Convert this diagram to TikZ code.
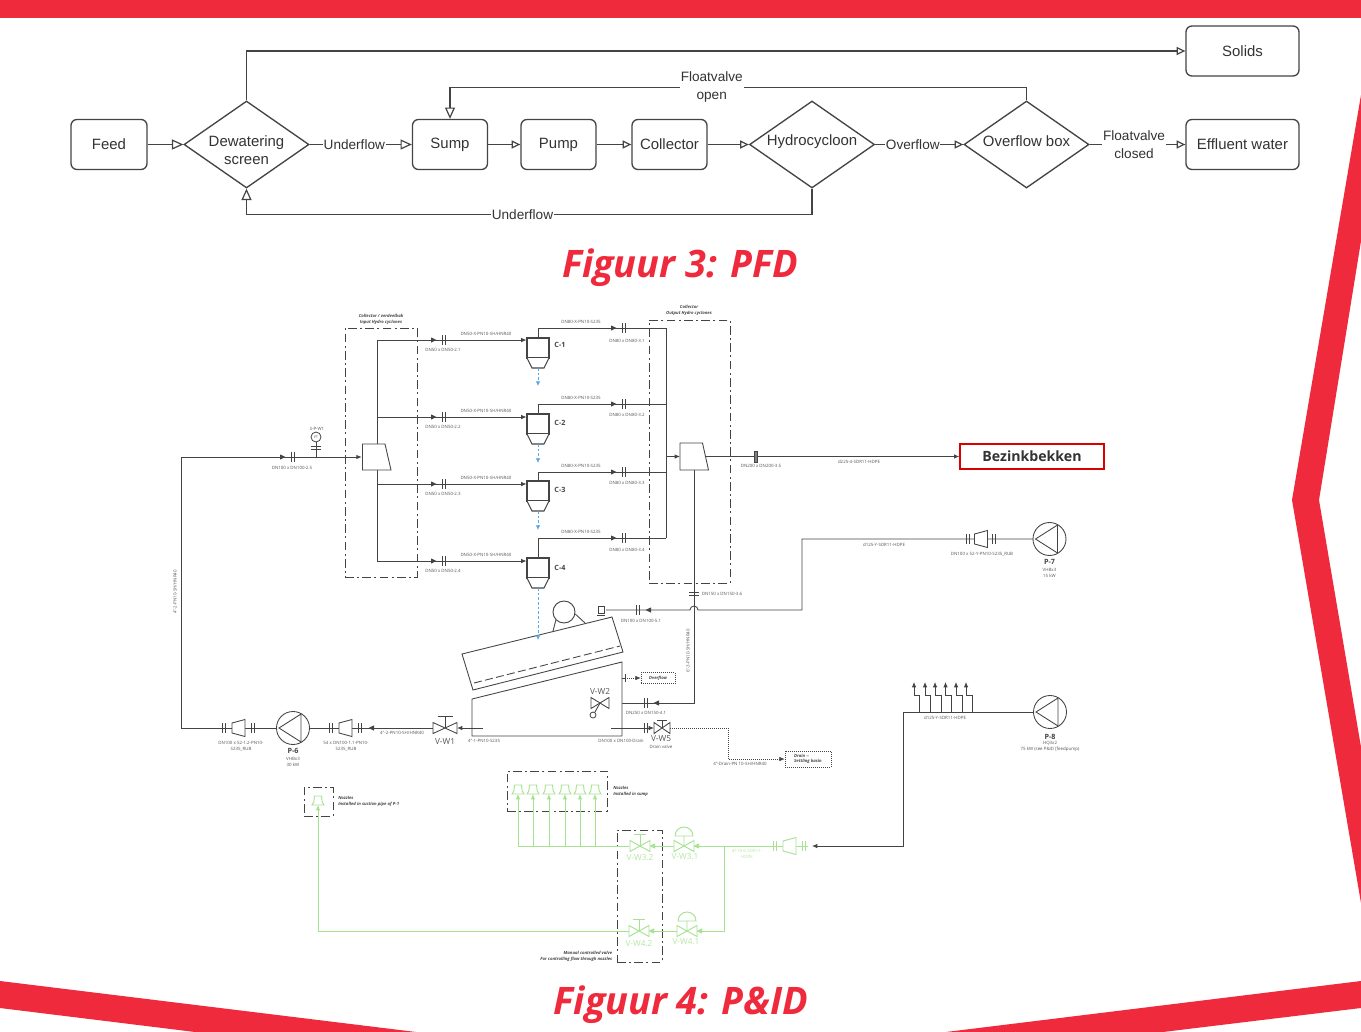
\documentclass[tikz,border=0pt]{standalone}
\usepackage{fontspec}
\setmainfont{Liberation Sans}
\newfontfamily\opensans{Open Sans}
\usetikzlibrary{arrows.meta,shapes.geometric,calc}
\definecolor{brandred}{HTML}{EE2A3C}
\definecolor{pipe}{HTML}{444444}
\definecolor{pfdtext}{HTML}{333333}
\definecolor{pipegreen}{HTML}{A6E291}
\definecolor{lblgreen}{HTML}{B5E6A4}
\definecolor{pipeblue}{HTML}{5BA8E6}
\definecolor{smalltext}{HTML}{555555}
\tikzset{
  pfdbox/.style={draw=pipe,line width=1pt,rounded corners=4.5pt,fill=white,font=\fontsize{11.2}{13}\selectfont,text=pfdtext,align=center,inner sep=0pt,minimum height=37.5pt},
  pfddiamond/.style={draw=pipe,line width=1pt,diamond,aspect=1.44,fill=white,inner sep=0pt,minimum width=93.75pt,minimum height=65.25pt},
  pfdtxt/.style={font=\fontsize{11.2}{13.5}\selectfont,text=pfdtext,align=center,inner sep=0pt},
  pfdflow/.style={draw=pipe,line width=0.9pt,-{Triangle[open,length=8.5pt,width=7.5pt]}},
  pfdflows/.style={draw=pipe,line width=0.9pt,-{Triangle[open,length=6.5pt,width=6pt]}},
  pfdlabel/.style={fill=white,inner sep=0.6pt,font=\fontsize{10.2}{13.5}\selectfont,text=pfdtext,align=center},
  figtitle/.style={font=\opensans\bfseries\itshape\fontsize{28.4}{31}\selectfont,text=brandred},
  tinyt/.style={font=\opensans\fontsize{3.3}{4.4}\selectfont,text=smalltext,align=center,inner sep=0pt},
  tinyg/.style={font=\opensans\fontsize{3.3}{4.4}\selectfont,text=lblgreen,align=center,inner sep=0pt},
  capc/.style={font=\opensans\bfseries\itshape\fontsize{3.2}{4.4}\selectfont,text=pipe,align=center,inner sep=0pt},
  capl/.style={capc,align=left,anchor=west},
  capr/.style={capc,align=right,anchor=east},
  tagbig/.style={font=\opensans\fontsize{6.2}{7}\selectfont,text=smalltext,inner sep=0pt},
  tagg/.style={font=\opensans\fontsize{6.2}{7}\selectfont,text=lblgreen,inner sep=0pt},
  cyclab/.style={font=\opensans\bfseries\fontsize{5.4}{6}\selectfont,text=pipe,inner sep=0pt},
  pline/.style={draw=pipe,line width=0.65pt},
  gline/.style={draw=pipegreen,line width=0.7pt},
  bline/.style={draw=pipeblue,line width=0.6pt,dash pattern=on 2pt off 1.5pt},
  dashdot/.style={draw=pipe,line width=0.6pt,dash pattern=on 6.5pt off 2.5pt on 1.5pt off 2.5pt},
  dotbox/.style={draw=pipe,line width=0.5pt,densely dotted},
  pipetip/.style={-{Latex[length=4pt,width=3.4pt]}},
  gtip/.style={-{Latex[length=4pt,width=3.4pt,color=pipegreen]}},
  pics/flange/.style={code={
    \draw[pic actions] (-1.8,-5)--(-1.8,5) (1.8,-5)--(1.8,5);}},
  pics/tip/.style={code={
    \fill[pic actions,draw=none] (2.5,0)--(-3,-2.6)--(-3,2.6)--cycle;}},
  pics/reducer/.style={code={
    \draw[pic actions,fill=white] (-6.5,-5)--(6.5,-8.5)--(6.5,8.5)--(-6.5,5)--cycle;}},
  pics/valve/.style={code={
    \draw[pic actions,fill=white] (-#1,-5.5)--(#1,5.5)--(#1,-5.5)--(-#1,5.5)--cycle;}},
  pics/stem/.style={code={
    \draw[pic actions] (0,0)--(0,-12) (-#1,-12)--(#1,-12);}},
  pics/shortstem/.style={code={
    \draw[pic actions] (0,0)--(0,-8) (-#1,-8)--(#1,-8);}},
  pics/dome/.style={code={
    \draw[pic actions] (0,0)--(0,-10) (-9,-10) arc[start angle=180,end angle=360,radius=9] --cycle;}},
  pics/pump/.style={code={
    \draw[pic actions,fill=white] (0,0) circle[radius=16.5];
    \draw[pic actions] (-14,0)--(8,-14)--(8,14)--cycle;}},
  pics/nozzle/.style={code={
    \draw[pic actions] (-3.5,-9)--(3.5,-9)--(4.2,-3)--(6,0)--(-6,0)--(-4.2,-3)--cycle;}},
  pics/cyclone/.style={code={
    \draw[pipe,line width=0.8pt,fill=white] (-11,0) rectangle (11,20);
    \draw[pipe,line width=0.8pt,fill=white] (-11,20)--(-6,30)--(6,30)--(11,20);}},
}
\begin{document}
\begin{tikzpicture}[x=0.75pt,y=-0.75pt]
\useasboundingbox (0,0) rectangle (1361,1032);
\fill[white] (0,0) rectangle (1361,1032);
% brand decoration
\fill[brandred] (0,0) rectangle (1361,18);
\fill[brandred] (1361,95)--(1292,500)--(1361,903)--(1361,747)--(1319,500)--(1361,241)--cycle;
\fill[brandred] (0,981)--(416,1032)--(195,1032)--(0,1008)--cycle;
\fill[brandred] (1361,981)--(946,1032)--(1163,1032)--(1361,1008)--cycle;
\node[figtitle] (t3) at (680,268) {Figuur 3: PFD};
\node[figtitle] (t4) at (681,1005) {Figuur 4: P\&ID};

% ---------- PFD ----------
\node[pfdbox,minimum width=57pt] (feed) at (109,144.5) {Feed};
\node[pfddiamond] (dew) at (246.5,144.5) {};
\node[pfdtxt] (dewt) at (246.5,150.5) {Dewatering\\screen};
\node[pfdbox,minimum width=56.25pt] (sump) at (450,144.5) {Sump};
\node[pfdbox,minimum width=56.25pt] (pumpb) at (558.5,144.5) {Pump};
\node[pfdbox,minimum width=56.25pt] (coll) at (669.5,144.5) {Collector};
\node[pfddiamond] (hyd) at (812,144.5) {};
\node[pfdtxt] (hydt) at (812,141.5) {Hydrocycloon};
\node[pfddiamond] (ovb) at (1026.5,144.5) {};
\node[pfdtxt] (ovbt) at (1026.5,141.5) {Overflow box};
\node[pfdbox,minimum width=84.75pt] (sol) at (1242.5,51) {Solids};
\node[pfdbox,minimum width=84.75pt] (eff) at (1242.5,144.5) {Effluent water};
\draw[pfdflow] (feed)--(dew);
\draw[pfdflows] (dew.north)|-(sol.west);
\draw[pfdflow] (dew)--(sump) node[pfdlabel,pos=0.437] (u1) {Underflow};
\draw[pfdflows] (sump)--(pumpb);
\draw[pfdflows] (pumpb)--(coll);
\draw[pfdflows] (coll)--(hyd);
\draw[pfdflows] (hyd)--(ovb) node[pfdlabel,pos=0.427] (o1) {Overflow};
\draw[pfdflows] (ovb)--(eff) node[pfdlabel,pos=0.464] (f1) {Floatvalve\\closed};
\draw[pfdflow] (ovb.north)--++(0,-13)-|(sump.north) node[pfdlabel,pos=0.273] (f2) {Floatvalve\\open};
\draw[pfdflow] (hyd.south)--++(0,26)-|(dew.south) node[pfdlabel,pos=0.256] (u2) {Underflow};

% ---------- P&ID: dashed enclosures ----------
\node[dashdot,minimum width=54pt,minimum height=186.75pt,inner sep=0pt] (encin) at (381,452.5) {};
\node[dashdot,minimum width=60.75pt,minimum height=197.25pt,inner sep=0pt] (encout) at (689.5,451.5) {};
\node[capc] (capin) at (381,319) {Collector / verdeelbak\\Input Hydro cyclones};
\node[capc] (capout) at (689,310.5) {Collector\\Output Hydro cyclones};

% manifolds
\node[inner sep=0pt,minimum width=21pt,minimum height=19.5pt] (mi) at (376,457) {};
\node[inner sep=0pt,minimum width=21pt,minimum height=19.5pt] (mo) at (694,456.5) {};

% cyclone anchors
\coordinate (c1) at (538,338);
\coordinate (c2) at (538,414);
\coordinate (c3) at (538,481);
\coordinate (c4) at (538,558);

% feed line
\coordinate (p6out) at (276.5,728);
\draw[pline,pipetip] (p6out)--(181,728)--(181,457)--(mi.west);
\pic[pline] at (293,457) {flange};
\pic[pipe] at (283,457) {tip};
\node[tinyt] (l1) at (292,468) {DN100 x DN100-2.5};
% pressure transmitter
\node[draw=pipe,line width=0.6pt,circle,minimum size=7.5pt,inner sep=0pt,font=\opensans\fontsize{2.6}{3}\selectfont,text=pipe,fill=white] (pt) at (316,437) {PT};
\draw[pline] (316,457)--(pt.south);
\draw[pline] (311,446)--(321,446) (311,449.5)--(321,449.5);
\node[tinyt] (l2) at (317,429) {S-P-W1};

% inlet header
\coordinate (hi1) at (377,340);
\coordinate (hi2) at (377,417);
\coordinate (hi3) at (377,484);
\coordinate (hi4) at (377,561);
\draw[pline] (hi1)--(hi4);
\foreach \cc/\hh/\yy/\yl/\nn in {c1/hi1/340/350/1,c2/hi2/417/427/2,c3/hi3/484/494/3,c4/hi4/561/571/4}{
  \draw[pline,pipetip] (\hh)--(526.5,\yy);
  \pic[pline] at (444,\yy) {flange};
  \pic[pipe] at (434,\yy) {tip};
  \node[tinyt] (li\nn) at (443,\yl) {DN50 x DN50-2.\nn};
  \node[tinyt] (ls\nn) at (486,{\yy-6}) {DN50-X-PN10-SH/HNR40};
}
\draw[pline,fill=white] (362.5,444)--(385,444)--(391,470)--(362.5,470)--cycle;

% outlet header
\coordinate (ho1) at (666,328);
\coordinate (ho2) at (666,404);
\coordinate (ho3) at (666,472);
\coordinate (ho4) at (666,538);
\draw[pline] (ho1)--(ho4);
\foreach \cc/\hh/\yy/\yl/\nn in {c1/ho1/328/341/1,c2/ho2/404/415/2,c3/ho3/472/483/3,c4/ho4/538/550/4}{
  \draw[pline] (\cc)|-(\hh);
  \pic[pline] at (624,\yy) {flange};
  \pic[pipe] at (614,\yy) {tip};
  \node[tinyt] (lo\nn) at (627,\yl) {DN80 x DN80-3.\nn};
  \node[tinyt] (lu\nn) at (581,{\yy-6}) {DN80-X-PN10-S235};
}
\draw[pline,pipetip] (666,456.5)--(680,456.5);
\draw[pline,fill=white] (680,443)--(702.5,443)--(708.5,470)--(680,470)--cycle;

% cyclones
\foreach \cc/\nn/\lx/\ly in {c1/1/560/345,c2/2/560/423,c3/3/560/490,c4/4/560/568}{
  \pic at (\cc) {cyclone};
  \node[cyclab] (cl\nn) at (\lx,\ly) {C-\nn};
}

% outlet to Bezinkbekken
\node[inner sep=0pt,minimum width=108pt,minimum height=18.75pt,draw=red!85!black,line width=1pt,fill=white,font=\opensans\bfseries\fontsize{10.6}{12}\selectfont,text=pfdtext] (bez) at (1032,456.5) {Bezinkbekken};
\draw[pline,pipetip] (705,456.5)--(bez.west);
\draw[pline,fill=gray] (754.5,451) rectangle (757.5,462);
\node[tinyt] (l3) at (761,466) {DN200 x DN200-3.5};
\node[tinyt] (l4) at (859,462) {d225-4-SDR11-HDPE};

% drop from outlet collector to V-W2
\coordinate (vw2in) at (610,703);
\draw[pline,pipetip] (694,470)--(694,703)--(vw2in);
\draw[pline] (689,592)--(699,592) (689,595)--(699,595);
\node[tinyt] (l5) at (722,594) {DN150 x DN150-3.6};
\pic[pline] at (646,703) {flange};
\pic[pipe,rotate=180] at (656,703) {tip};
\node[tinyt] (l6) at (646,713) {DN250 x DN150-4.1};
\node[tinyt,rotate=90] (l7) at (688,651) {6"-3-PN10-SH/HNR40};

% P-7 feed
\pic[pline] at (1049.5,539) {pump};
\draw[pline] (1033,539)--(802,539)--(802,610)--(698,610) arc[start angle=0,end angle=-180,radius=4] --(606,610);
\pic[pline] at (968,539) {flange};
\pic[pline] at (981,539) {reducer};
\pic[pline] at (994,539) {flange};
\pic[pipe,rotate=180] at (648,610) {tip};
\pic[pline] at (638,610) {flange};
\draw[pline,fill=white] (598,606.5) rectangle (604,613) (597,615)--(605,615);
\node[tinyt] (l8) at (641,621) {DN100 x DN100-5.1};
\node[tinyt] (l9) at (884,545) {d125-Y-SDR11-HDPE};
\node[tinyt] (l10) at (982,554) {DN100 x 52-Y-PN10-S235\_RUB};
\node[cyclab] (p7) at (1049.5,562) {P-7};
\node[tinyt] (p7a) at (1049.5,572.5) {VHBx3\\15 kW};

% screen
\draw[pline,fill=white] (462,654)--(612,617)--(623,652)--(473,690)--cycle;
\draw[pline,dash pattern=on 6pt off 2.5pt] (474,683)--(620,646);
\node[draw=pipe,line width=0.7pt,circle,minimum size=16.5pt,inner sep=0pt,fill=white] (motor) at (564,612) {};
\draw[pline] (motor.south west)--(553,631) (motor.-10)--(585,623);

% tank
\draw[pline,fill=white] (472,699)--(622,662)--(622,736)--(472,736)--cycle;
\node[dotbox,minimum width=25.5pt,minimum height=8.25pt,inner sep=0pt,font=\opensans\bfseries\itshape\fontsize{3.2}{4}\selectfont,text=pipe] (ovfl) at (658,678) {Overflow};
\draw[pline] (622,678)--(625,678) (625,674)--(625,682);
\draw[dotbox,pipetip] (625,678)--(ovfl.west);

% blue underflow of the cyclones
\foreach \cc/\bb in {c1/386,c2/463,c3/530,c4/640}{
  \draw[bline,-{Latex[length=3.5pt,width=3.4pt,color=pipeblue]}] ($(\cc)+(0,30)$)--(538,\bb);
}

% V-W2
\pic[pline] at (600,703) {valve=9};
\draw[pline] (600,703)--(595,712);
\node[draw=pipe,line width=0.6pt,circle,minimum size=4.5pt,inner sep=0pt] (vw2b) at (593,715) {};
\node[tagbig] (vw2) at (600,691) {V-W2};

% V-W5 and drain
\node[dotbox,minimum width=34.5pt,minimum height=12pt,inner sep=0pt,font=\opensans\bfseries\itshape\fontsize{3.2}{4}\selectfont,text=pipe,align=left] (drain) at (808,759) {Drain --\\Settling basin};
\draw[pline,pipetip] (611,728)--(654,728);
\pic[pline] at (646,728) {flange};
\pic[pline] at (662,728) {shortstem=5};
\pic[pline] at (662,728) {valve=8};
\draw[dotbox,pipetip] (670,728)--(728,728)--(728,759)--(drain.west);
\node[tinyt] (l11) at (621,741) {DN100 x DN100-Drain};
\node[tagbig] (vw5) at (661,739) {V-W5};
\node[tinyt] (l12) at (661,747) {Drain valve};
\node[tinyt] (l13) at (740,764) {4"-Drain-PN 10-SH/HNR40};

% V-W1 and P-6
\pic[pline] at (293,728) {pump};
\draw[pline,pipetip] (483,728)--(457,728);
\draw[pline] (433,728)--(309.5,728);
\pic[pline] at (445,728) {stem=7.5};
\pic[pline] at (445,728) {valve=12};
\pic[pipe,rotate=180] at (371,728) {tip};
\pic[pline] at (360,728) {flange};
\pic[pline] at (345.5,728) {reducer};
\pic[pline] at (331,728) {flange};
\pic[pline] at (253,728) {flange};
\pic[pline] at (238.5,728) {reducer};
\pic[pline] at (224,728) {flange};
\node[tagbig] (vw1) at (445,742) {V-W1};
\node[tinyt] (l14) at (484,741) {4"-1-PN10-S235};
\node[tinyt] (l15) at (402,733) {4"-2-PN10-SH/HNR40};
\node[tinyt] (l16) at (241,746) {DN100 x 52-1.2-PN10-\\S235\_RUB};
\node[tinyt] (l17) at (346,746) {54 x DN100-1.1-PN10-\\S235\_RUB};
\node[cyclab] (p6) at (293,751) {P-6};
\node[tinyt] (p6a) at (293,762) {VHBx3\\30 kW};
\node[tinyt,rotate=90] (l18) at (175,592) {4"-2-PN10-SH/HNR40};

% P-8
\pic[pline] at (1050,712) {pump};
\draw[pline,pipetip] (1033.5,712)--(903,712)--(903,846)--(812,846);
\foreach \xx/\xt in {919/914,930/925,941/935,951/945.5,962/956,972/966}{
  \draw[pline,pipetip] (\xx,712)--(\xx,695)--(\xt,695)--(\xt,682);
}
\node[tinyt] (l19) at (945,718) {d125-Y-SDR11-HDPE};
\node[cyclab] (p8) at (1050,737) {P-8};
\node[tinyt] (p8a) at (1050,746.5) {HQ3x2\\75 kW (see P\&ID [feedpump)};

% green section
\node[dashdot,minimum width=75pt,minimum height=30pt,inner sep=0pt] (encn) at (557,791) {};
\node[dashdot,minimum width=21.75pt,minimum height=21.75pt,inner sep=0pt] (encs) at (318.5,801.5) {};
\node[dashdot,minimum width=33.75pt,minimum height=99pt,inner sep=0pt] (encv) at (639.5,896) {};
\node[capl] (cn) at (613,791) {Nozzles\\Installed in sump};
\node[capl] (cs) at (338,801) {Nozzles\\Installed in suction pipe of P-1};
\node[capr] (cv) at (612.5,956.5) {Manual controlled valve\\For controlling flow through nozzles};
\draw[gline] (629,846)--(518,846);
\foreach \xx in {518,533,549,565,580,595}{
  \draw[gline,gtip] (\xx,846)--(\xx,794);
  \pic[gline] at (\xx,794) {nozzle};
}
\draw[gline,gtip] (629,931)--(318,931)--(318,805);
\pic[gline] at (318,805) {nozzle};
\draw[gline] (808,846)--(651,846);
\draw[gline] (724,846)--(724,931)--(650,931);
\pic[gline] at (640,846) {stem=6};
\pic[gline] at (640,846) {valve=10};
\pic[gline] at (684,846) {dome};
\pic[gline] at (684,846) {valve=10};
\pic[gline] at (639,931) {stem=6};
\pic[gline] at (639,931) {valve=10};
\pic[gline] at (687,931) {dome};
\pic[gline] at (687,931) {valve=10};
\foreach \xx/\yy in {652/846,696/846,651/931,699/931}{
  \pic[pipegreen,rotate=180] at (\xx,\yy) {tip};
}
\pic[gline] at (775,846) {flange};
\pic[gline] at (789.5,846) {reducer};
\pic[gline] at (804,846) {flange};
\node[tagg] (g1) at (640,858) {V-W3.2};
\node[tagg] (g2) at (685,857) {V-W3.1};
\node[tagg] (g3) at (639,944) {V-W4.2};
\node[tagg] (g4) at (686,942) {V-W4.1};
\node[tinyg] (g5) at (747,854) {d110-6-SDR11-\\HDPE};
\end{tikzpicture}
\end{document}
